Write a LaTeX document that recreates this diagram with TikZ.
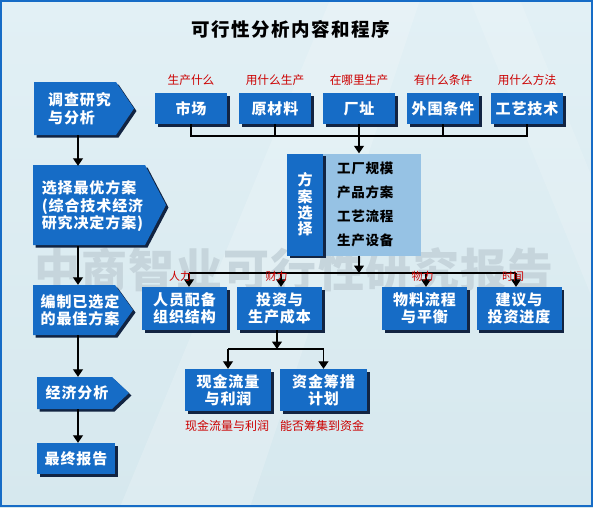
\documentclass[tikz,border=0pt]{standalone}
\usepackage{fontspec}
\setmainfont{Noto Sans CJK SC}
\newfontfamily\boxfont{Noto Sans CJK SC}[LetterSpace=6]
\newfontfamily\titlefont{Noto Sans CJK SC}[LetterSpace=8]
\newfontfamily\wmfont{Noto Sans CJK SC}[LetterSpace=3]
\usetikzlibrary{arrows.meta,calc,shadows}
\definecolor{bgtop}{RGB}{226,240,245}
\definecolor{bgbot}{RGB}{214,232,238}
\definecolor{boxblue}{RGB}{22,108,198}
\definecolor{boxshadow}{RGB}{18,36,66}
\definecolor{lightblue}{RGB}{150,194,228}
\definecolor{redtxt}{RGB}{204,0,0}
\definecolor{framec}{RGB}{22,108,198}
\definecolor{wmc}{RGB}{198,213,220}
\tikzset{
  bshadow/.style={drop shadow={shadow xshift=2.5pt,shadow yshift=-2.5pt,opacity=1,fill=boxshadow}},
  tbox/.style={rectangle, fill=boxblue, bshadow, inner sep=0pt, text=white,
    font=\boxfont\bfseries\fontsize{15}{17.5}\selectfont, align=center},
  wtext/.style={rectangle, inner sep=0pt, text=white,
    font=\boxfont\bfseries\fontsize{15}{17.5}\selectfont, align=left},
  redlbl/.style={inner sep=0pt, text=redtxt, font=\fontsize{11.7}{13}\selectfont},
  conn/.style={line width=1.1pt, black},
  arr/.style={conn, -{Triangle[width=10pt,length=7.5pt]}},
}
\newcommand\pentshape[5]{%
  \fill[boxblue,bshadow] (#1,#2) -- (#3,#2) -- (#4,{(#2+#5)/2}) -- (#3,#5) -- (#1,#5) -- cycle;}
\begin{document}
\begin{tikzpicture}[x=1pt,y=-1pt]
\useasboundingbox (0,0) rectangle (593,507);
\shade[top color=bgtop, bottom color=bgbot] (0,0) rectangle (593,507);
\fill[white,opacity=0.18] (330,0) -- (420,0) -- (250,507) -- (120,507) -- cycle;
\fill[white,opacity=0.15] (470,0) -- (520,0) -- (593,180) -- (593,300) -- cycle;
\node[inner sep=0pt, text=wmc, font=\wmfont\bfseries\fontsize{46}{50}\selectfont] (wm) at (294,270) {中商智业可行性研究报告};
\draw[framec, line width=2.2pt] (1.1,1.1) rectangle (591.9,505.9);

% title
\node[inner sep=0pt, font=\titlefont\bfseries\fontsize{18.5}{20}\selectfont] (title) at (291,29) {可行性分析内容和程序};

% left column
\coordinate (cx) at (78,0);
\pentshape{34}{82}{116}{134}{135}
\node[wtext, minimum height=53pt] (L1) at (79.5,108.5) {调查研究\\与分析};
\pentshape{33}{165}{145}{166}{245}
\node[wtext, minimum height=80pt] (L2) at (92.5,206) {选择最优方案\\(综合技术经济\\研究决定方案)};
\pentshape{33}{285}{115}{133}{335}
\node[wtext, minimum height=50pt] (L3) at (80,310) {编制已选定\\的最佳方案};
\pentshape{37}{377}{112}{129}{409}
\node[wtext, minimum height=32pt] (L4) at (77,393) {经济分析};
\node[tbox, minimum width=78pt, minimum height=31pt] (L5) at (76,458.5) {最终报告};
\draw[arr] (L1.south -| cx) -- (L2.north -| cx);
\draw[arr] (L2.south -| cx) -- (L3.north -| cx);
\draw[arr] (L3.south -| cx) -- (L4.north -| cx);
\draw[arr] (L4.south -| cx) -- (L5.north -| cx);

% top row
\foreach \n/\x/\t/\q in {1/191/市场/生产什么, 2/275/原材料/用什么生产, 3/359/厂址/在哪里生产, 4/443/外围条件/有什么条件, 5/527/工艺技术/用什么方法}{
  \node[tbox, minimum width=72pt, minimum height=31pt] (m\n) at (\x,108.5) {\t};
  \node[redlbl] (q\n) at (\x,80) {\q};
}
\coordinate (bus1) at (0,136);
\draw[conn] (m1.south) -- (m1.south |- bus1) -- (m5.south |- bus1) -- (m5.south);
\foreach \n in {2,3,4}{\draw[conn] (m\n.south) -- (m\n.south |- bus1);}

% plan group
\node[rectangle, fill=lightblue, minimum width=98pt, minimum height=102pt, inner sep=0pt,
  text width=70pt, align=left, font=\boxfont\bfseries\fontsize{13.5}{24}\selectfont] (pB) at (372,204.5) {工厂规模\\产品方案\\工艺流程\\生产设备};
\node[tbox, minimum width=36pt, minimum height=102pt, font=\boxfont\bfseries\fontsize{15}{16.3}\selectfont] (pA) at (305,204.5) {方\\案\\选\\择};
\draw[arr] (m3.south |- bus1) -- (m3.south |- pB.north);

% second level
\coordinate (bus2) at (0,273);
\draw[arr] (m3.south |- pB.south) -- (m3.south |- bus2);
\node[tbox, minimum width=85pt, minimum height=43pt] (r1) at (184.5,308.5) {人员配备\\组织结构};
\node[tbox, minimum width=85pt, minimum height=43pt] (r2) at (279.5,308.5) {投资与\\生产成本};
\node[tbox, minimum width=85pt, minimum height=43pt] (r3) at (424.5,308.5) {物料流程\\与平衡};
\node[tbox, minimum width=85pt, minimum height=43pt] (r4) at (519,308.5) {建议与\\投资进度};
\coordinate (a1) at (189,273);
\coordinate (a2) at (281,273);
\coordinate (a3) at (426,273);
\coordinate (a4) at (516,273);
\draw[conn] (a1) -- (a4);
\foreach \n in {1,2,3,4}{\draw[arr] (a\n) -- (a\n |- r\n.north);}
\node[redlbl, font=\fontsize{11}{12}\selectfont] (s1) at (180,276) {人力};
\node[redlbl, font=\fontsize{11}{12}\selectfont] (s2) at (276.5,276) {财力};
\node[redlbl, font=\fontsize{11}{12}\selectfont] (s3) at (422.5,276) {物力};
\node[redlbl, font=\fontsize{11}{12}\selectfont] (s4) at (513,276) {时间};

% third level
\node[tbox, minimum width=86pt, minimum height=42pt] (b1) at (228,390) {现金流量\\与利润};
\node[tbox, minimum width=87pt, minimum height=42pt] (b2) at (323.5,390) {资金筹措\\计划};
\coordinate (bus3) at (0,349);
\coordinate (d0) at (277,330);
\draw[arr] (d0) -- (d0 |- bus3);
\draw[conn] (b1.north |- bus3) -- (b2.north |- bus3);
\draw[arr] (b1.north |- bus3) -- (b1.north);
\draw[arr] (b2.north |- bus3) -- (b2.north);
\node[redlbl, font=\fontsize{12}{13}\selectfont] (c1) at (227,426) {现金流量与利润};
\node[redlbl, font=\fontsize{12}{13}\selectfont] (c2) at (322,426) {能否筹集到资金};
\end{tikzpicture}
\end{document}
